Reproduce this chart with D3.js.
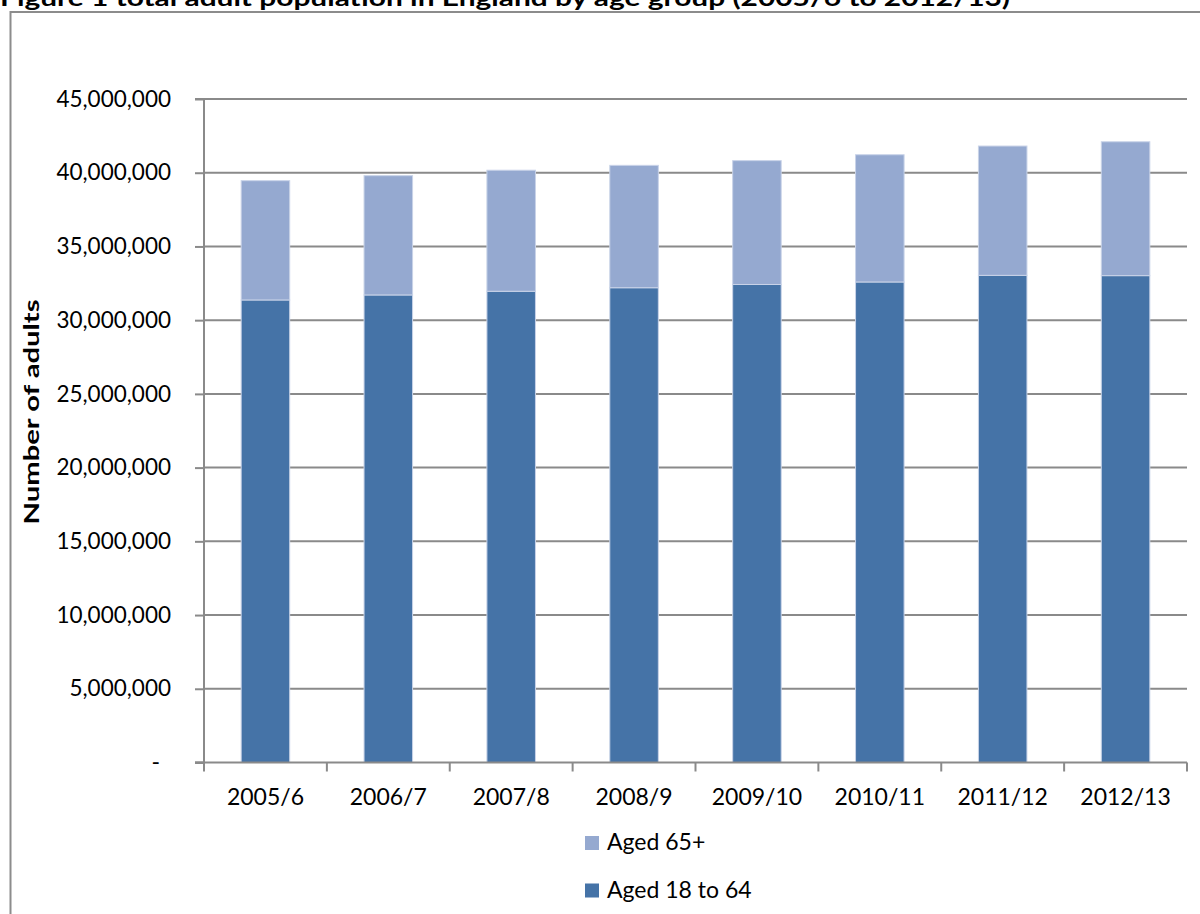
<!DOCTYPE html>
<html>
<head>
<meta charset="utf-8">
<script src="https://cdn.jsdelivr.net/npm/d3@7"></script>
<style>
  html, body { margin: 0; padding: 0; background: #ffffff; }
  svg { display: block; }
  text { font-family: Lato, "Open Sans", sans-serif; fill: #000; }
</style>
</head>
<body>
<svg id="chart" width="1200" height="914"></svg>
<script>
// Survey years
const years = ["2005/6", "2006/7", "2007/8", "2008/9", "2009/10", "2010/11", "2011/12", "2012/13"];
// Adults aged 18 to 64
const aged18to64 = [31370000, 31710000, 31960000, 32200000, 32420000, 32590000, 33040000, 33020000];
// Adults aged 65 and over
const aged65plus = [8090000, 8090000, 8210000, 8300000, 8400000, 8630000, 8770000, 9080000];
// Value axis ticks
const yTicks = [0, 5000000, 10000000, 15000000, 20000000, 25000000, 30000000, 35000000, 40000000, 45000000];
const seriesNames = ["Aged 18 to 64", "Aged 65+"];
const legendOrder = ["Aged 65+", "Aged 18 to 64"];

const colors = { "Aged 18 to 64": "#4573a7", "Aged 65+": "#95a9d0" };

const svg = d3.select("#chart");
const plot = { left: 204, right: 1187, top: 99, bottom: 762.5 };

// Outer chart frame (runs off the right and bottom edges)
svg.append("rect")
  .attr("x", 10.5).attr("y", 12)
  .attr("width", 1300).attr("height", 1000)
  .attr("fill", "#fff").attr("stroke", "#8c8c8c").attr("stroke-width", 2);

// Title
svg.append("text")
  .attr("x", 0).attr("y", 5.5)
  .attr("font-family", "'Open Sans', Lato, sans-serif")
  .attr("font-weight", "bold")
  .attr("font-size", 22)
  .attr("textLength", 1010)
  .attr("lengthAdjust", "spacingAndGlyphs")
  .text("Figure 1 total adult population in England by age group (2005/6 to 2012/13)");

const x = d3.scaleBand()
  .domain(years)
  .range([plot.left, plot.right])
  .paddingInner(0.605)
  .paddingOuter(0.3025);

const y = d3.scaleLinear()
  .domain([0, 45000000])
  .range([plot.bottom, plot.top]);

// Horizontal gridlines
svg.append("g")
  .selectAll("line")
  .data(yTicks.filter(d => d > 0))
  .join("line")
  .attr("x1", plot.left).attr("x2", plot.right)
  .attr("y1", d => y(d)).attr("y2", d => y(d))
  .attr("stroke", "#8a8a8a").attr("stroke-width", 2);

// Stacked bars
const rows = years.map((yr, i) => ({ year: yr, "Aged 18 to 64": aged18to64[i], "Aged 65+": aged65plus[i] }));
const stacked = d3.stack().keys(seriesNames)(rows);

svg.append("g")
  .selectAll("g")
  .data(stacked)
  .join("g")
  .attr("fill", d => colors[d.key])
  .selectAll("rect")
  .data(d => d)
  .join("rect")
  .attr("x", d => x(d.data.year))
  .attr("width", x.bandwidth())
  .attr("y", d => y(d[1]))
  .attr("height", d => y(d[0]) - y(d[1]))
  .attr("stroke", "#c9d3e8")
  .attr("stroke-width", 1);

// Value axis
const yAxis = d3.axisLeft(y)
  .tickValues(yTicks)
  .tickSize(9)
  .tickPadding(24)
  .tickFormat(d => d === 0 ? "" : d3.format(",")(d));

const yg = svg.append("g")
  .attr("transform", `translate(${plot.left},0)`)
  .call(yAxis);
yg.select(".domain").attr("stroke", "#8a8a8a").attr("stroke-width", 2)
  .attr("d", `M-9,${plot.bottom}H0V${plot.top}H-9`);
yg.selectAll(".tick line").attr("stroke", "#8a8a8a").attr("stroke-width", 2);
yg.selectAll(".tick text")
  .attr("font-family", "Lato, sans-serif")
  .attr("font-size", 22.5)
  .attr("fill", "#000");

// Zero label shown as a dash
svg.append("text")
  .attr("x", 160).attr("y", y(0))
  .attr("dy", "0.32em")
  .attr("text-anchor", "end")
  .attr("font-size", 23)
  .text("-");

// Category axis
svg.append("line")
  .attr("x1", plot.left - 9).attr("x2", plot.right)
  .attr("y1", plot.bottom).attr("y2", plot.bottom)
  .attr("stroke", "#8a8a8a").attr("stroke-width", 2);

const boundary = d3.scaleLinear().domain([0, years.length]).range([plot.left, plot.right]);
svg.append("g")
  .selectAll("line")
  .data(d3.range(years.length + 1))
  .join("line")
  .attr("x1", d => boundary(d)).attr("x2", d => boundary(d))
  .attr("y1", plot.bottom).attr("y2", plot.bottom + 9)
  .attr("stroke", "#8a8a8a").attr("stroke-width", 2);

svg.append("g")
  .selectAll("text")
  .data(years)
  .join("text")
  .attr("x", d => x(d) + x.bandwidth() / 2)
  .attr("y", 805)
  .attr("text-anchor", "middle")
  .attr("font-size", 23)
  .text(d => d);

// Axis title
svg.append("text")
  .attr("transform", "translate(38.5,412) rotate(-90)")
  .attr("text-anchor", "middle")
  .attr("font-family", "'Open Sans', Lato, sans-serif")
  .attr("font-weight", "bold")
  .attr("font-size", 21)
  .attr("textLength", 225)
  .attr("lengthAdjust", "spacingAndGlyphs")
  .text("Number of adults");

// Legend
const legend = svg.append("g")
  .selectAll("g")
  .data(legendOrder)
  .join("g")
  .attr("transform", (d, i) => `translate(585,${836 + i * 47.5})`);
legend.append("rect")
  .attr("width", 14).attr("height", 14)
  .attr("fill", d => colors[d]);
legend.append("text")
  .attr("x", 22).attr("y", 14)
  .attr("font-size", 23)
  .text(d => d);
</script>
</body>
</html>
